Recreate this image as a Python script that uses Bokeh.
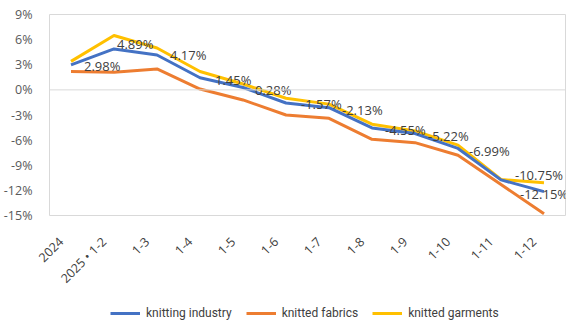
import math
from bokeh.plotting import figure
from bokeh.layouts import column
from bokeh.models import (ColumnDataSource, Range1d, Legend, LegendItem,
                          Span, FixedTicker, CustomJSTickFormatter, LinearAxis)
from bokeh.core.properties import value
from bokeh.embed import file_html
from bokeh.resources import INLINE

# ---- data ----
categories = ["2024", "2025 • 1-2", "1-3", "1-4", "1-5", "1-6", "1-7", "1-8",
              "1-9", "1-10", "1-11", "1-12"]
knitting_industry = [2.98, 4.89, 4.17, 1.45, 0.28, -1.57, -2.13, -4.55, -5.22, -6.99, -10.75, -12.15]
knitted_fabrics = [2.2, 2.1, 2.5, 0.1, -1.2, -3.0, -3.4, -5.9, -6.3, -7.8, -11.3, -14.8]
knitted_garments = [3.4, 6.5, 5.0, 2.2, 0.7, -1.0, -1.7, -4.1, -4.9, -6.6, -10.7, -11.1]
series_names = ["knitting industry", "knitted fabrics", "knitted garments"]
y_ticks = [9, 6, 3, 0, -3, -6, -9, -12, -15]

# label nudges (screen px, +down), layout only
label_dx = [13, 3, 13, 15, 12, 15, 13, 13, 13, 11, 14, -24]
label_dy = [1, -5, 0, 2, 2, 1, 2, 2, 2, 3, -5, 2]

BLUE, ORANGE, YELLOW = "#4472C4", "#ED7D31", "#FFC000"
FONT = "Open Sans"
N = len(categories)
pos = [i + 0.5 for i in range(N)]   # band centres of the category axis
LABEL_SHIFT = 0.23  # category-axis label nudge (fraction of a band)

p = figure(frame_width=516, frame_height=201, output_backend="svg", toolbar_location=None,
           x_range=Range1d(0, N), y_range=Range1d(-15, 9), x_axis_location=None,
           min_border_left=47, min_border_right=11, min_border_top=14,
           min_border_bottom=80)
p.outline_line_color = "#D9D9D9"
p.outline_line_width = 1
p.background_fill_color = "white"
p.border_fill_color = "white"
p.grid.visible = False

p.add_layout(Span(location=0, dimension="width", line_color="#D9D9D9", line_width=1))

# y axis
p.yaxis.ticker = FixedTicker(ticks=y_ticks)
p.yaxis.formatter = CustomJSTickFormatter(code="return tick + '%';")
p.yaxis.axis_line_color = None
p.yaxis.major_tick_line_color = None
p.yaxis.minor_tick_line_color = None
p.yaxis.major_label_text_font = FONT
p.yaxis.major_label_text_font_size = "12.5px"
p.yaxis.major_label_text_color = "#595959"
p.yaxis.major_label_standoff = 11

# x axis (category labels)
p.extra_x_ranges = {"lab": Range1d(LABEL_SHIFT, N + LABEL_SHIFT)}
xax = LinearAxis(x_range_name="lab",
                 ticker=FixedTicker(ticks=pos),
                 formatter=CustomJSTickFormatter(args=dict(labels=categories),
                                                 code="return labels[Math.round(tick - 0.5)];"))
xax.axis_line_color = None
xax.major_tick_line_color = None
xax.minor_tick_line_color = None
xax.major_label_orientation = math.pi / 4
xax.major_label_text_font = FONT
xax.major_label_text_font_size = "12.5px"
xax.major_label_text_color = "#404040"
xax.major_label_standoff = 18
p.add_layout(xax, "below")

src = ColumnDataSource(dict(x=pos, ind=knitting_industry, fab=knitted_fabrics,
                            gar=knitted_garments,
                            lab=[f"{v:.2f}%" for v in knitting_industry],
                            dx=label_dx, dy=label_dy))

p.line("x", "fab", source=src, line_color=ORANGE, line_width=3, line_join="round")
p.line("x", "gar", source=src, line_color=YELLOW, line_width=3, line_join="round")
p.line("x", "ind", source=src, line_color=BLUE, line_width=3, line_join="round")

p.text("x", "ind", text="lab", source=src, x_offset="dx", y_offset="dy",
       text_font=value(FONT), text_font_size="13px", text_color="#404040",
       text_align="left", text_baseline="middle")

# ---- legend strip (own small figure so it is not clipped) ----
lf = figure(width=574, height=38, output_backend="svg", toolbar_location=None,
            x_axis_location=None, y_axis_location=None, min_border=0,
            x_range=Range1d(0, 1), y_range=Range1d(0, 1))
lf.outline_line_color = None
lf.grid.visible = False
nan = float("nan")
l_ind = lf.line("x", "y", source=ColumnDataSource(dict(x=[nan], y=[nan])),
                line_color=BLUE, line_width=3)
l_fab = lf.line("x", "y", source=ColumnDataSource(dict(x=[nan], y=[nan])),
                line_color=ORANGE, line_width=3)
l_gar = lf.line("x", "y", source=ColumnDataSource(dict(x=[nan], y=[nan])),
                line_color=YELLOW, line_width=3)

legend = Legend(items=[LegendItem(label=series_names[0], renderers=[l_ind]),
                       LegendItem(label=series_names[1], renderers=[l_fab]),
                       LegendItem(label=series_names[2], renderers=[l_gar])],
                orientation="horizontal", location=(61, 13),
                label_text_font="Roboto", label_text_font_size="12px",
                label_text_color="#404040", glyph_width=30, glyph_height=10,
                label_standoff=6, spacing=14, border_line_color=None,
                background_fill_alpha=0, margin=0, padding=4)
lf.add_layout(legend, "center")

layout = column(p, lf, spacing=0)
open("out.html", "w").write(file_html(layout, INLINE))
